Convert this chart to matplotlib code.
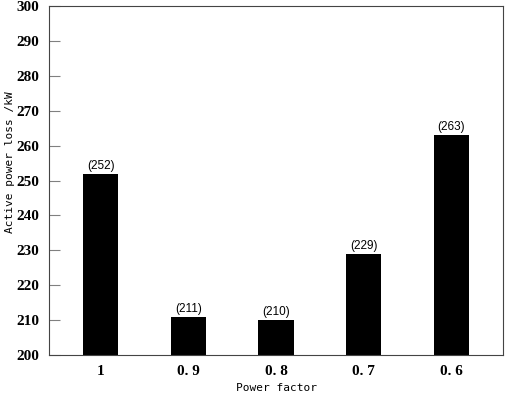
import numpy as np
import matplotlib
matplotlib.rcParams["font.family"] = ["DejaVu Sans Mono"]
matplotlib.rcParams["font.size"] = 9
import matplotlib.pyplot as plt

factors = ["1", "0. 9", "0. 8", "0. 7", "0. 6"]
loss = [252, 211, 210, 229, 263]

fig = plt.figure(figsize=(5.05, 3.99), dpi=100)
ax = fig.add_axes([49 / 505, 44 / 399, 454 / 505, 349 / 399])

x = np.arange(len(factors))
ax.bar(x, loss, width=0.4, color="black")
for xi, v in zip(x, loss):
    ax.text(xi, v + 0.5, "(%d)" % v, ha="center", va="bottom",
            fontsize=8.5, family="Liberation Sans")

ax.set_xlim(-0.594, 4.594)
ax.set_ylim(200, 300)
ax.set_yticks(np.arange(200, 301, 10))
ax.set_xticks(x)
ax.set_xticklabels(factors)
ax.tick_params(axis="x", length=0, pad=7)
ax.tick_params(axis="y", direction="in", length=8, color="gray", pad=7)
for lab in ax.get_xticklabels() + ax.get_yticklabels():
    lab.set_family("Liberation Serif")
    lab.set_fontweight("bold")
    lab.set_fontsize(11)
for s in ax.spines.values():
    s.set_linewidth(0.8)
    s.set_color("#444444")

fig.text(276 / 505, 1 - 388 / 399, "Power factor", ha="center", va="center",
         fontsize=8)
fig.text(10 / 505, 1 - 162 / 399, "Active power loss /kW", rotation=90,
         ha="center", va="center", fontsize=8)

plt.savefig("out.png", dpi=100)
